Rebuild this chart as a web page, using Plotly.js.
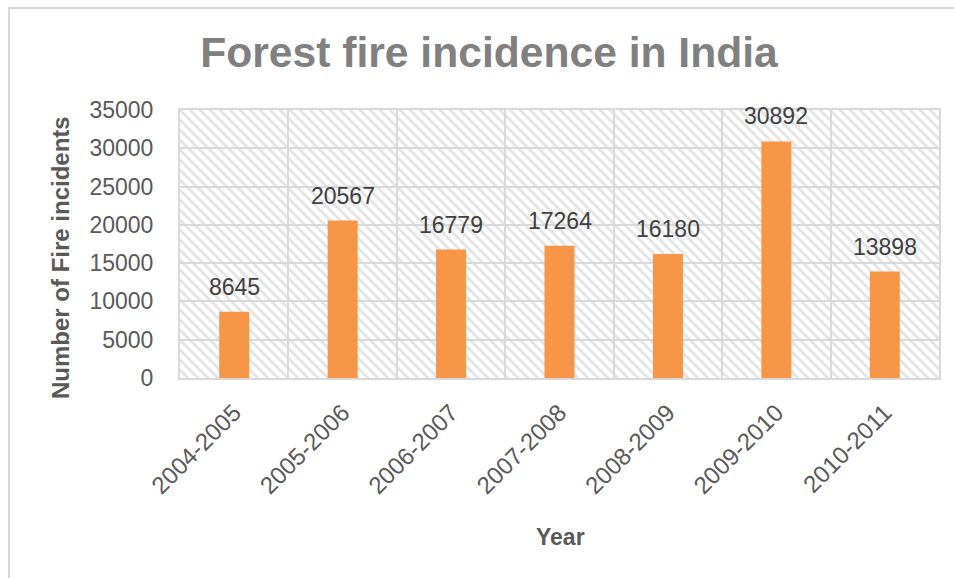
<!DOCTYPE html>
<html>
<head>
<meta charset="utf-8">
<script src="https://cdn.plot.ly/plotly-3.0.1.min.js"></script>
<style>
  html, body { margin: 0; padding: 0; background: #fff; overflow: hidden; }
  #wrap { position: relative; width: 954px; height: 578px; }
  #chart { width: 954px; height: 578px; }
  #frame { position: absolute; left: 8px; top: 7px; width: 960px; height: 590px;
           border: 2px solid #d9d9d9; box-sizing: border-box; pointer-events: none; }
</style>
</head>
<body>
<div id="wrap">
  <div id="chart"></div>
  <div id="frame"></div>
</div>
<script>
const years = ["2004-2005", "2005-2006", "2006-2007", "2007-2008", "2008-2009", "2009-2010", "2010-2011"];
const fireIncidents = [8645, 20567, 16779, 17264, 16180, 30892, 13898];
const yTicks = [0, 5000, 10000, 15000, 20000, 25000, 30000, 35000];

const FONT = 'Liberation Sans, Arial, sans-serif';

const hatchSvg = '<svg xmlns="http://www.w3.org/2000/svg" width="759" height="268">' +
  '<defs><pattern id="p" patternUnits="userSpaceOnUse" width="10" height="10">' +
  '<path d="M-2,-2 L12,12 M-2,8 L2,12 M8,-2 L12,2" stroke="#e5e5e5" stroke-width="3"/>' +
  '</pattern></defs><rect width="759" height="268" fill="#fff"/><rect width="759" height="268" fill="url(#p)"/></svg>';
const hatchUri = 'data:image/svg+xml;base64,' + btoa(hatchSvg);

const trace = {
  type: 'bar',
  x: years,
  y: fireIncidents,
  marker: { color: '#F79646' },
  width: 0.277,
  hoverinfo: 'x+y'
};

const valueLabels = years.map((yr, i) => ({
  x: yr, y: fireIncidents[i], xref: 'x', yref: 'y',
  text: String(fireIncidents[i]),
  showarrow: false, yanchor: 'bottom', yshift: 10,
  font: { family: FONT, size: 23, color: '#404040' }
}));

const layout = {
  width: 954,
  height: 578,
  margin: { l: 180, r: 15, t: 110, b: 200 },
  paper_bgcolor: '#ffffff',
  plot_bgcolor: '#ffffff',
  font: { family: FONT, color: '#595959' },
  showlegend: false,
  title: {
    text: '<b>Forest fire incidence in India</b>',
    font: { family: FONT, size: 42.6, color: '#808080' },
    xref: 'container', yref: 'container',
    x: 489 / 954, xanchor: 'center',
    y: 1 - 52 / 578, yanchor: 'middle'
  },
  xaxis: {
    type: 'category',
    tickson: 'boundaries',
    showgrid: true,
    gridcolor: '#d9d9d9',
    gridwidth: 2,
    showline: true,
    linecolor: '#d9d9d9',
    linewidth: 2,
    mirror: true,
    ticks: '',
    tickangle: -45,
    tickfont: { size: 24, color: '#595959' },
    ticklabelstandoff: 9,
    automargin: false,
    fixedrange: true
  },
  yaxis: {
    range: [0, 35000],
    tickvals: yTicks,
    ticktext: yTicks.map(String),
    showgrid: true,
    gridcolor: '#d9d9d9',
    gridwidth: 2,
    zeroline: false,
    showline: true,
    linecolor: '#d9d9d9',
    linewidth: 2,
    mirror: true,
    ticks: '',
    tickfont: { size: 23, color: '#595959' },
    ticklabelstandoff: 20,
    automargin: false,
    fixedrange: true
  },
  annotations: valueLabels.concat([
    {
      text: '<b>Year</b>', xref: 'paper', yref: 'paper',
      x: (560 - 180) / 759, y: (378 - 537) / 268,
      xanchor: 'center', yanchor: 'middle', showarrow: false,
      font: { family: FONT, size: 23, color: '#595959' }
    },
    {
      text: '<b>Number of Fire incidents</b>', xref: 'paper', yref: 'paper',
      x: (60 - 180) / 759, y: (378 - 258) / 268, textangle: -90,
      xanchor: 'center', yanchor: 'middle', showarrow: false,
      font: { family: FONT, size: 24, color: '#595959' }
    }
  ]),
  images: [{
    source: hatchUri,
    xref: 'paper', yref: 'paper',
    x: 0, y: 1, sizex: 1, sizey: 1,
    xanchor: 'left', yanchor: 'top',
    sizing: 'stretch',
    layer: 'below'
  }]
};

Plotly.newPlot('chart', [trace], layout, { displayModeBar: false, staticPlot: true });
</script>
</body>
</html>
